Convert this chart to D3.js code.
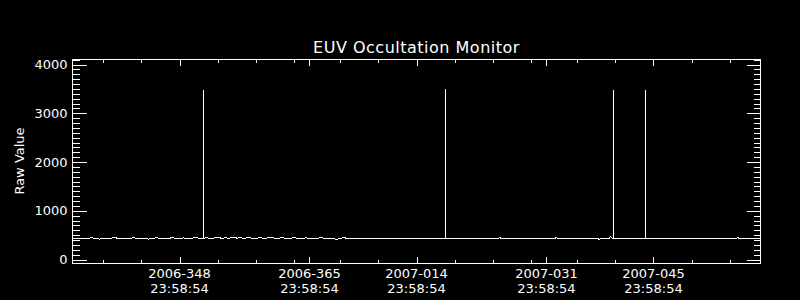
<!DOCTYPE html>
<html>
<head>
<meta charset="utf-8">
<script src="https://cdn.jsdelivr.net/npm/d3@7"></script>
<style>
  body { margin: 0; background: #000; }
  svg { display: block; background: #000; }
  text { fill: #fff; font-family: "DejaVu Sans", sans-serif; }
</style>
</head>
<body>
<svg id="chart" width="800" height="300"></svg>
<script>
// tick labels (day-of-year) and their clock time
var majorDays = ["2006-348", "2006-365", "2007-014", "2007-031", "2007-045"];
var minorDays = ["2006-338", "2006-343", "2006-353", "2006-358", "2006-363", "2007-004",
                 "2007-009", "2007-019", "2007-024", "2007-029", "2007-035", "2007-040",
                 "2007-050", "2007-055"];
var tickClock = "23:58:54";
var rangeDays = ["2006-334", "2007-059"];
var yTicks = [0, 1000, 2000, 3000, 4000];

// noisy baseline, one sample every half day from day 335 (2006 day-of-year)
var noisyStart = 335.0;
var noisyStep = 0.5;
var noisyValues = [436, 431, 440, 428, 433, 445, 430, 419, 436, 441, 432, 452, 430, 427, 438,
                   433, 446, 429, 436, 431, 418, 437, 444, 432, 439, 429, 448, 435, 431, 442,
                   437, 430, 455, 436, 433, 447, 431, 440, 452, 437, 444, 434, 458, 439, 446,
                   433, 451, 438, 430, 449, 436, 441, 455, 432, 438, 447, 431, 436, 450, 433,
                   431, 444, 431, 435, 431, 452, 431, 431, 438, 414, 431, 448, 431, 431];
// quiet part (day-of-year counted from 2006-001)
var quietDoy   = [372.0, 390.7, 390.9, 391.1, 398.1, 398.3, 398.5, 403.7, 403.9, 404.1,
                  405.2, 405.4, 405.6, 421.8, 422.0, 422.2, 425.1];
var quietValue = [431, 431, 453, 431, 431, 452, 431, 431, 411, 431,
                  431, 474, 431, 431, 452, 431, 431];
// spikes
var spikeDoy   = [352.11, 383.77, 405.75, 409.93];
var spikeValue = [3487, 3508, 3487, 3487];
var spikeBase = 431;

var pLeft = 72.5, pRight = 760.5, pTop = 59.5, pBottom = 263.5;
var svg = d3.select("#chart");

var parseDay = d3.utcParse("%Y-%j %H:%M:%S");
function dayDate(s) { return parseDay(s + " " + tickClock); }
function fromDoy(d) { return new Date(Date.UTC(2006, 0, 1) + (d - 1) * 864e5); }

var x = d3.scaleUtc()
  .domain(rangeDays.map(dayDate))
  .range([pLeft, pRight]);
var y = d3.scaleLinear()
  .domain([-82, 4103])
  .range([pBottom, pTop]);

var series = noisyValues.map(function(v, i) {
  return { t: fromDoy(noisyStart + i * noisyStep), v: v };
});
quietDoy.forEach(function(d, i) { series.push({ t: fromDoy(d), v: quietValue[i] }); });

// data
svg.append("path")
  .datum(series)
  .attr("fill", "none")
  .attr("stroke", "#fff")
  .attr("stroke-width", 1)
  .attr("shape-rendering", "crispEdges")
  .attr("d", d3.line().x(function(d) { return x(d.t); }).y(function(d) { return y(d.v); }));

svg.selectAll("line.spike")
  .data(spikeDoy)
  .enter()
  .append("line")
  .attr("class", "spike")
  .attr("x1", function(d) { return Math.round(x(fromDoy(d))) + 0.5; })
  .attr("x2", function(d) { return Math.round(x(fromDoy(d))) + 0.5; })
  .attr("y1", y(spikeBase))
  .attr("y2", function(d, i) { return y(spikeValue[i]); })
  .attr("stroke", "#fff")
  .attr("shape-rendering", "crispEdges");

// frame
svg.append("rect")
  .attr("x", pLeft).attr("y", pTop)
  .attr("width", pRight - pLeft).attr("height", pBottom - pTop)
  .attr("fill", "none").attr("stroke", "#fff")
  .attr("shape-rendering", "crispEdges");

// axes (ticks pointing inward)
function styleAxis(g) {
  g.select(".domain").remove();
  g.selectAll("line").attr("stroke", "#fff").attr("shape-rendering", "crispEdges");
}
var majorDates = majorDays.map(dayDate);
var minorDates = minorDays.map(dayDate);

svg.append("g").attr("transform", "translate(0," + pBottom + ")")
  .call(d3.axisTop(x).tickValues(minorDates).tickSize(3.5).tickFormat(""))
  .call(styleAxis);
svg.append("g").attr("transform", "translate(0," + pBottom + ")")
  .call(d3.axisTop(x).tickValues(majorDates).tickSize(6.5).tickFormat(""))
  .call(styleAxis);
svg.append("g").attr("transform", "translate(0," + pTop + ")")
  .call(d3.axisBottom(x).tickValues(minorDates).tickSize(3.5).tickFormat(""))
  .call(styleAxis);
svg.append("g").attr("transform", "translate(0," + pTop + ")")
  .call(d3.axisBottom(x).tickValues(majorDates).tickSize(6.5).tickFormat(""))
  .call(styleAxis);

var yMinor = d3.range(0, 4101, 100);
[[pLeft, d3.axisRight], [pRight, d3.axisLeft]].forEach(function(a) {
  svg.append("g").attr("transform", "translate(" + a[0] + ",0)")
    .call(a[1](y).tickValues(yMinor).tickSize(7).tickFormat(""))
    .call(styleAxis);
  svg.append("g").attr("transform", "translate(" + a[0] + ",0)")
    .call(a[1](y).tickValues(yTicks).tickSize(14).tickFormat(""))
    .call(styleAxis);
});

// labels
svg.selectAll("text.ylab")
  .data(yTicks)
  .enter()
  .append("text")
  .attr("class", "ylab")
  .attr("x", 67.5)
  .attr("y", function(d) { return y(d) + 4.5; })
  .attr("text-anchor", "end")
  .style("font-size", "13px")
  .text(function(d) { return d; });

var fmtDay = d3.utcFormat("%Y-%j"), fmtClock = d3.utcFormat("%H:%M:%S");
var xl = svg.selectAll("g.xlab")
  .data(majorDates)
  .enter()
  .append("g")
  .attr("class", "xlab");
xl.append("text")
  .attr("x", function(d) { return x(d); })
  .attr("y", 278)
  .attr("text-anchor", "middle")
  .style("font-size", "13px")
  .text(function(d) { return fmtDay(d); });
xl.append("text")
  .attr("x", function(d) { return x(d); })
  .attr("y", 293)
  .attr("text-anchor", "middle")
  .style("font-size", "13px")
  .text(function(d) { return fmtClock(d); });

svg.append("text")
  .attr("transform", "translate(23.5,161) rotate(-90)")
  .attr("text-anchor", "middle")
  .style("font-size", "13px")
  .text("Raw Value");

svg.append("text")
  .attr("x", (pLeft + pRight) / 2)
  .attr("y", 52.5)
  .attr("text-anchor", "middle")
  .style("font-size", "16px")
  .style("letter-spacing", "0.5px")
  .text("EUV Occultation Monitor");
</script>
</body>
</html>
